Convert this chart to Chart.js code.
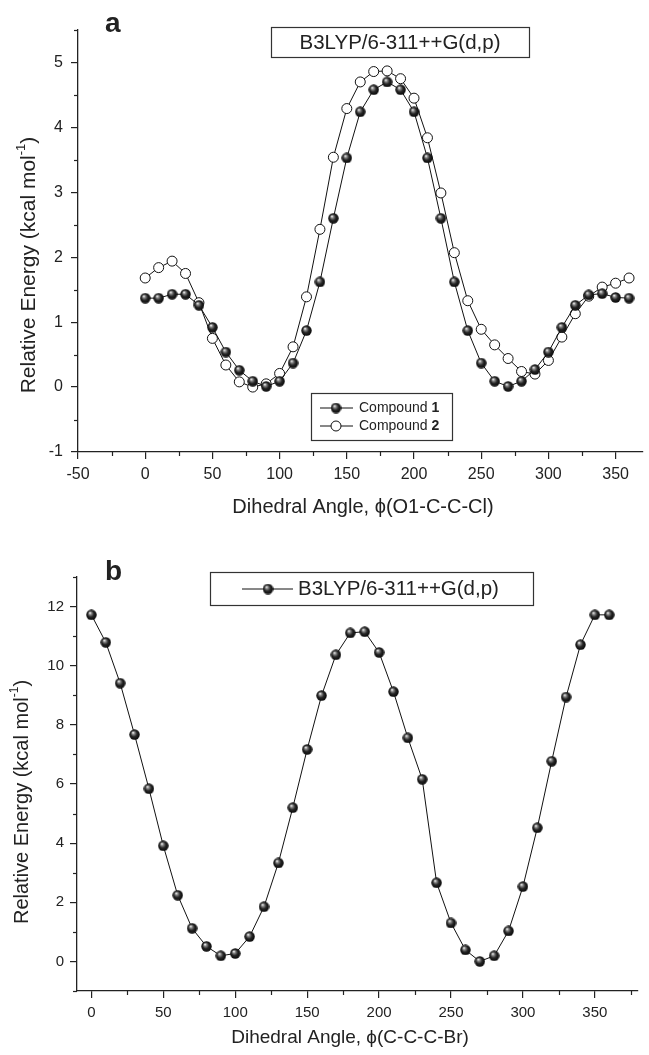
<!DOCTYPE html>
<html>
<head>
<meta charset="utf-8">
<script src="https://cdn.jsdelivr.net/npm/chart.js@4.4.0/dist/chart.umd.min.js"></script>
<style>
  body { margin: 0; background: #fff; }
  .panel { position: absolute; left: 0; width: 649px; }
  #panelA { top: 0; height: 530px; }
  #panelB { top: 530px; height: 525px; }
</style>
</head>
<body>
<div class="panel" id="panelA"><canvas id="chartA" width="649" height="530"></canvas></div>
<div class="panel" id="panelB"><canvas id="chartB" width="649" height="525"></canvas></div>
<script>
// Données (angle dièdre en degrés, énergie relative en kcal/mol)
const angles = [0, 10, 20, 30, 40, 50, 60, 70, 80, 90, 100, 110, 120, 130, 140, 150, 160, 170, 180,
                190, 200, 210, 220, 230, 240, 250, 260, 270, 280, 290, 300, 310, 320, 330, 340, 350, 360];

const compound1 = [1.37, 1.37, 1.43, 1.43, 1.26, 0.92, 0.54, 0.26, 0.09, 0.01, 0.09, 0.37, 0.87, 1.62, 2.60, 3.53, 4.24, 4.58, 4.70,
                   4.58, 4.24, 3.53, 2.60, 1.62, 0.87, 0.37, 0.09, 0.01, 0.09, 0.27, 0.54, 0.92, 1.26, 1.42, 1.44, 1.38, 1.37];

const compound2 = [1.68, 1.84, 1.94, 1.75, 1.30, 0.75, 0.34, 0.08, 0.00, 0.05, 0.21, 0.62, 1.39, 2.43, 3.54, 4.29, 4.70, 4.86, 4.87,
                   4.75, 4.45, 3.84, 2.99, 2.07, 1.33, 0.89, 0.65, 0.44, 0.24, 0.20, 0.41, 0.77, 1.13, 1.40, 1.54, 1.60, 1.68];

const bromo = [11.72, 10.79, 9.41, 7.67, 5.84, 3.91, 2.24, 1.12, 0.51, 0.19, 0.27, 0.84, 1.85, 3.33, 5.20, 7.17, 8.99, 10.37, 11.11,
               11.15, 10.45, 9.12, 7.56, 6.16, 2.66, 1.30, 0.39, 0.00, 0.19, 1.03, 2.53, 4.52, 6.77, 8.94, 10.71, 11.72, 11.72];

const xTicksA = [-50, 0, 50, 100, 150, 200, 250, 300, 350];
const yTicksA = [-1, 0, 1, 2, 3, 4, 5];
const xTicksB = [0, 50, 100, 150, 200, 250, 300, 350];
const yTicksB = [0, 2, 4, 6, 8, 10, 12];

const methodLabel = 'B3LYP/6-311++G(d,p)';
const seriesNames = ['Compound ', 'Compound '];
const seriesNums = ['1', '2'];
const yTitle = 'Relative Energy (kcal mol';
const xTitleA = 'Dihedral Angle, \u03d5(O1-C-C-Cl)';
const xTitleB = 'Dihedral Angle, \u03d5(C-C-C-Br)';

const FONT = '"Liberation Sans", Arial, sans-serif';
const INK = '#222';

Chart.defaults.font.family = FONT;
Chart.defaults.color = INK;

// petite bille noire avec reflet (marqueur "sphère")
function makeBall(d) {
    const c = document.createElement('canvas');
    c.width = d; c.height = d;
    const g = c.getContext('2d');
    const r = d / 2;
    const grad = g.createRadialGradient(r * 0.72, r * 0.62, 0.2, r, r, r);
    grad.addColorStop(0, '#ffffff');
    grad.addColorStop(0.22, '#8c8c8c');
    grad.addColorStop(0.55, '#262626');
    grad.addColorStop(1, '#050505');
    g.fillStyle = grad;
    g.beginPath();
    g.arc(r, r, r - 0.3, 0, Math.PI * 2);
    g.fill();
    return c;
}
const ball = makeBall(11);

function points(ys) {
    return angles.map((a, i) => ({x: a, y: ys[i]}));
}

// graduations mineures, placées via les échelles de Chart.js
const minorTicks = {
    id: 'minorTicks',
    afterDraw(chart, args, opts) {
        const ctx = chart.ctx;
        ctx.save();
        ctx.strokeStyle = INK;
        ctx.lineWidth = 1.2;
        for (const id of ['x', 'y']) {
            const s = chart.scales[id];
            const step = opts[id];
            if (!s || !step) continue;
            const majors = s.ticks.map(t => t.value);
            for (let v = Math.ceil(s.min / step) * step; v <= s.max + 1e-9; v += step) {
                if (majors.some(m => Math.abs(m - v) < 1e-6)) continue;
                const p = Math.round(s.getPixelForValue(v)) + 0.5;
                ctx.beginPath();
                if (id === 'x') { ctx.moveTo(p, s.top); ctx.lineTo(p, s.top + 4); }
                else { ctx.moveTo(s.right, p); ctx.lineTo(s.right - 4, p); }
                ctx.stroke();
            }
        }
        ctx.restore();
    }
};
Chart.register(minorTicks);

function drawYTitle(ctx, cx, cy, size) {
    ctx.save();
    ctx.translate(cx, cy);
    ctx.rotate(-Math.PI / 2);
    ctx.fillStyle = INK;
    ctx.textBaseline = 'middle';
    ctx.textAlign = 'left';
    const big = size + 'px ' + FONT;
    const small = Math.round(size * 0.6) + 'px ' + FONT;
    ctx.font = big;
    const w1 = ctx.measureText(yTitle).width;
    const w3 = ctx.measureText(')').width;
    ctx.font = small;
    const w2 = ctx.measureText('-1').width;
    let x = -(w1 + w2 + w3) / 2;
    ctx.font = big;
    ctx.fillText(yTitle, x, 0);
    x += w1;
    ctx.font = small;
    ctx.fillText('-1', x, -size * 0.38);
    x += w2;
    ctx.font = big;
    ctx.fillText(')', x, 0);
    ctx.restore();
}

function drawText(ctx, text, x, y, font, align) {
    ctx.font = font;
    ctx.textAlign = align || 'center';
    ctx.textBaseline = 'middle';
    ctx.fillText(text, x, y);
}

function scaleOpts(min, max, ticks, size, pad, fitKey, fitVal) {
    return {
        type: 'linear',
        min: min,
        max: max,
        afterBuildTicks: s => { s.ticks = ticks.map(v => ({value: v})); },
        afterFit: s => { s[fitKey] = fitVal; },
        ticks: { font: {size: size}, color: INK, padding: pad, autoSkip: false, maxRotation: 0 },
        grid: { drawOnChartArea: false, drawTicks: true, tickLength: 7, color: INK, lineWidth: 1.2 },
        border: { color: INK, width: 1.3 }
    };
}

// ---- panneau a ----
const decorA = {
    id: 'decorA',
    afterDraw(chart) {
        const ctx = chart.ctx;
        ctx.save();
        ctx.fillStyle = INK;
        ctx.strokeStyle = '#333';
        ctx.lineWidth = 1.2;
        ctx.font = 'bold 28px ' + FONT;
        ctx.textAlign = 'left';
        ctx.textBaseline = 'alphabetic';
        ctx.fillText('a', 105, 32);

        ctx.strokeRect(271.5, 27.5, 258, 30);
        drawText(ctx, methodLabel, 400, 43, '20.5px ' + FONT);

        // légende
        ctx.fillStyle = '#fff';
        ctx.fillRect(311.5, 393.5, 141, 47);
        ctx.strokeRect(311.5, 393.5, 141, 47);
        const rows = [408, 426];
        rows.forEach((ry, i) => {
            ctx.strokeStyle = '#111';
            ctx.lineWidth = 1;
            ctx.beginPath();
            ctx.moveTo(320, ry); ctx.lineTo(353, ry);
            ctx.stroke();
            if (i === 0) {
                ctx.drawImage(ball, 336 - 5.5, ry - 5.5);
            } else {
                ctx.fillStyle = '#fff';
                ctx.beginPath();
                ctx.arc(336, ry, 5, 0, Math.PI * 2);
                ctx.fill();
                ctx.stroke();
            }
            ctx.fillStyle = INK;
            drawText(ctx, seriesNames[i], 359, ry, '14px ' + FONT, 'left');
            const w = ctx.measureText(seriesNames[i]).width;
            drawText(ctx, seriesNums[i], 359 + w, ry, 'bold 14px ' + FONT, 'left');
        });

        ctx.fillStyle = INK;
        drawText(ctx, xTitleA, 363, 507, '20px ' + FONT);
        drawYTitle(ctx, 29, 265, 21);
        ctx.restore();
    }
};

new Chart(document.getElementById('chartA'), {
    type: 'line',
    data: {
        datasets: [{
            label: 'Compound 1',
            data: points(compound1),
            borderColor: '#111',
            borderWidth: 1,
            pointStyle: ball,
            pointRadius: 5.5,
            tension: 0
        }, {
            label: 'Compound 2',
            data: points(compound2),
            borderColor: '#111',
            borderWidth: 1,
            pointStyle: 'circle',
            pointRadius: 5,
            pointBackgroundColor: '#fff',
            pointBorderColor: '#111',
            pointBorderWidth: 1,
            tension: 0
        }]
    },
    options: {
        responsive: false,
        animation: false,
        layout: { padding: {top: 30, right: 0, bottom: 0, left: 0} },
        scales: {
            x: scaleOpts(-50, 370, xTicksA, 16, 6, 'height', 78),
            y: scaleOpts(-1, 5.5, yTicksA, 16, 8, 'width', 78)
        },
        plugins: {
            legend: { display: false },
            tooltip: { enabled: false },
            minorTicks: { x: 25, y: 0.5 }
        }
    },
    plugins: [decorA]
});

// ---- panneau b ----
const decorB = {
    id: 'decorB',
    afterDraw(chart) {
        const ctx = chart.ctx;
        ctx.save();
        ctx.fillStyle = INK;
        ctx.font = 'bold 28px ' + FONT;
        ctx.textAlign = 'left';
        ctx.textBaseline = 'alphabetic';
        ctx.fillText('b', 105, 50);

        ctx.strokeStyle = '#333';
        ctx.lineWidth = 1.2;
        ctx.strokeRect(210.5, 42.5, 323, 33);
        ctx.strokeStyle = '#111';
        ctx.lineWidth = 1;
        ctx.beginPath();
        ctx.moveTo(242, 59); ctx.lineTo(293, 59);
        ctx.stroke();
        ctx.drawImage(ball, 268 - 5.5, 59 - 5.5);
        drawText(ctx, methodLabel, 298, 59, '20.5px ' + FONT, 'left');

        drawText(ctx, xTitleB, 350, 508, '19px ' + FONT);
        drawYTitle(ctx, 22, 272, 20);
        ctx.restore();
    }
};

new Chart(document.getElementById('chartB'), {
    type: 'line',
    data: {
        datasets: [{
            label: methodLabel,
            data: points(bromo),
            borderColor: '#111',
            borderWidth: 1,
            pointStyle: ball,
            pointRadius: 5.5,
            tension: 0
        }]
    },
    options: {
        responsive: false,
        animation: false,
        layout: { padding: {top: 47, right: 11, bottom: 0, left: 0} },
        scales: {
            x: scaleOpts(-10, 380, xTicksB, 15, 6, 'height', 64),
            y: scaleOpts(-1, 13, yTicksB, 15, 6, 'width', 77)
        },
        plugins: {
            legend: { display: false },
            tooltip: { enabled: false },
            minorTicks: { x: 25, y: 1 }
        }
    },
    plugins: [decorB]
});
</script>
</body>
</html>
